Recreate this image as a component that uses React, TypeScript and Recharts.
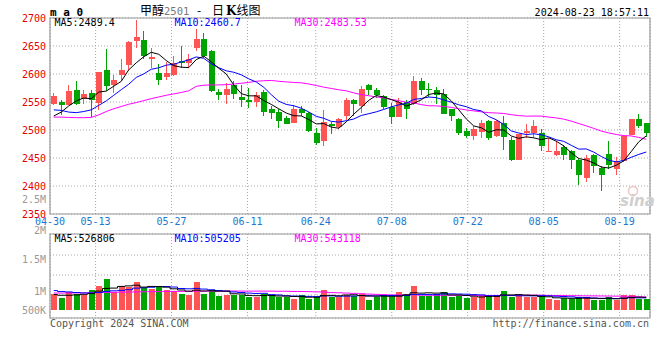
import React from "react";
import { ComposedChart, Bar, Line, XAxis, YAxis, CartesianGrid, ReferenceArea } from "recharts";

// ---------- data ----------
const DATES = [
  "04-30",
  "05-06", "05-07", "05-08", "05-09", "05-10",
  "05-13", "05-14", "05-15", "05-16", "05-17",
  "05-20", "05-21", "05-22", "05-23", "05-24",
  "05-27", "05-28", "05-29", "05-30", "05-31",
  "06-03", "06-04", "06-05", "06-06", "06-07",
  "06-11", "06-12", "06-13", "06-14",
  "06-17", "06-18", "06-19", "06-20", "06-21",
  "06-24", "06-25", "06-26", "06-27", "06-28",
  "07-01", "07-02", "07-03", "07-04", "07-05",
  "07-08", "07-09", "07-10", "07-11", "07-12",
  "07-15", "07-16", "07-17", "07-18", "07-19",
  "07-22", "07-23", "07-24", "07-25", "07-26",
  "07-29", "07-30", "07-31", "08-01", "08-02",
  "08-05", "08-06", "08-07", "08-08", "08-09",
  "08-12", "08-13", "08-14", "08-15", "08-16",
  "08-19", "08-20", "08-21", "08-22", "08-23",
];

const GRID_DATES = ["04-30", "05-13", "05-27", "06-11", "06-24", "07-08", "07-22", "08-05", "08-19"];

const OPEN = [
  2546, 2550, 2544, 2571, 2556, 2566, 2548, 2608, 2580, 2598,
  2616, 2659, 2660, 2627, 2601, 2594, 2599, 2624, 2620, 2646,
  2662, 2641, 2568, 2563, 2581, 2559, 2553, 2550, 2568, 2538,
  2532, 2522, 2513, 2538, 2531, 2495, 2480, 2511, 2505, 2525,
  2554, 2543, 2580, 2572, 2560, 2541, 2523, 2550, 2546, 2587,
  2574, 2572, 2565, 2537, 2520, 2498, 2489, 2496, 2516, 2489,
  2513, 2483, 2447, 2494, 2495, 2495, 2461, 2455, 2469, 2462,
  2447, 2415, 2456, 2432, 2457, 2431, 2444, 2491, 2519, 2512,
];
const HIGH = [
  2566, 2553, 2581, 2587, 2572, 2572, 2604, 2645, 2598, 2627,
  2659, 2696, 2677, 2647, 2618, 2622, 2632, 2650, 2635, 2680,
  2674, 2642, 2574, 2584, 2587, 2581, 2575, 2568, 2572, 2543,
  2538, 2525, 2544, 2543, 2532, 2504, 2535, 2514, 2522, 2557,
  2556, 2578, 2583, 2575, 2563, 2548, 2557, 2554, 2596, 2593,
  2584, 2577, 2574, 2537, 2522, 2504, 2507, 2517, 2517, 2517,
  2525, 2487, 2493, 2510, 2517, 2502, 2485, 2481, 2474, 2465,
  2449, 2456, 2457, 2435, 2481, 2451, 2491, 2520, 2529, 2513,
];
const LOW = [
  2545, 2527, 2544, 2544, 2547, 2524, 2535, 2570, 2566, 2587,
  2608, 2647, 2626, 2611, 2581, 2590, 2597, 2611, 2611, 2641,
  2629, 2568, 2554, 2547, 2556, 2541, 2540, 2541, 2525, 2520,
  2504, 2510, 2513, 2525, 2497, 2474, 2472, 2492, 2501, 2517,
  2525, 2531, 2563, 2557, 2538, 2510, 2523, 2520, 2544, 2562,
  2559, 2546, 2528, 2516, 2491, 2485, 2483, 2485, 2483, 2487,
  2465, 2445, 2446, 2486, 2485, 2463, 2461, 2453, 2447, 2431,
  2401, 2407, 2423, 2391, 2431, 2420, 2443, 2491, 2504, 2487,
];
const CLOSE = [
  2560, 2544, 2569, 2547, 2565, 2554, 2603, 2578, 2590, 2608,
  2657, 2666, 2632, 2630, 2590, 2601, 2620, 2619, 2626, 2662,
  2632, 2569, 2562, 2574, 2565, 2554, 2550, 2562, 2532, 2530,
  2516, 2511, 2538, 2531, 2498, 2477, 2514, 2507, 2520, 2554,
  2546, 2574, 2571, 2563, 2541, 2523, 2550, 2537, 2587, 2572,
  2571, 2563, 2529, 2525, 2494, 2489, 2501, 2513, 2485, 2516,
  2487, 2447, 2492, 2498, 2507, 2471, 2463, 2462, 2456, 2446,
  2419, 2450, 2435, 2420, 2437, 2444, 2489, 2519, 2507, 2495,
];

const MA5 = [
  2525, 2532, 2543, 2552, 2557.1, 2555.9, 2567.7, 2569.5, 2578.2, 2586.9,
  2607.5, 2620.0, 2630.8, 2638.8, 2635.2, 2624.0, 2614.8, 2612.2, 2611.4, 2625.7,
  2632.0, 2621.8, 2610.4, 2600.0, 2580.5, 2564.9, 2561.0, 2561.0, 2552.6, 2545.7,
  2537.9, 2530.3, 2525.5, 2525.1, 2518.7, 2510.9, 2511.5, 2505.2, 2503.2, 2514.5,
  2528.3, 2540.2, 2553.0, 2561.6, 2558.8, 2554.3, 2549.5, 2542.7, 2547.5, 2553.8,
  2563.4, 2566.0, 2564.4, 2551.9, 2536.1, 2519.8, 2507.2, 2504.0, 2496.0, 2500.4,
  2500.0, 2489.3, 2485.1, 2487.8, 2486.0, 2482.7, 2486.0, 2480.0, 2471.6, 2459.4,
  2449.0, 2446.4, 2441.0, 2433.9, 2432.1, 2437.1, 2444.8, 2461.6, 2478.9, 2489.4,
];
const MA10 = [
  2536, 2535, 2532, 2531, 2533, 2536, 2544, 2552, 2562, 2572.0,
  2581.7, 2593.9, 2600.2, 2608.5, 2611.1, 2615.8, 2617.4, 2621.5, 2625.1, 2630.5,
  2628.0, 2618.3, 2611.3, 2605.7, 2603.1, 2598.5, 2591.4, 2585.7, 2576.3, 2563.1,
  2551.4, 2545.7, 2543.3, 2538.9, 2532.2, 2524.4, 2520.9, 2515.4, 2514.2, 2516.6,
  2519.6, 2525.9, 2529.1, 2532.4, 2536.7, 2541.3, 2544.9, 2547.9, 2554.6, 2556.3,
  2558.9, 2557.8, 2553.6, 2549.7, 2545.0, 2541.6, 2536.6, 2534.2, 2524.0, 2518.3,
  2509.9, 2498.3, 2494.6, 2491.9, 2493.2, 2491.4, 2487.7, 2482.6, 2479.7, 2472.7,
  2465.9, 2466.2, 2460.5, 2452.8, 2445.8, 2443.1, 2445.6, 2451.3, 2456.4, 2460.7,
];
const MA30 = [
  2523, 2523, 2522.5, 2522, 2522, 2522.5, 2527, 2533, 2538, 2542,
  2546, 2549, 2552.5, 2556, 2559, 2562, 2564.5, 2567, 2570, 2578,
  2580, 2580.5, 2580.5, 2581, 2582, 2583.5, 2585, 2587, 2588, 2588.5,
  2587.0, 2585.9, 2584.9, 2584.3, 2582.1, 2579.5, 2576.5, 2574.2, 2571.8, 2570.0,
  2566.3, 2563.2, 2561.2, 2559.0, 2557.3, 2554.7, 2552.4, 2549.6, 2548.3, 2545.3,
  2543.3, 2543.1, 2542.0, 2540.3, 2537.9, 2535.8, 2534.1, 2532.5, 2530.9, 2530.4,
  2529.5, 2527.3, 2525.8, 2524.7, 2525.0, 2524.8, 2523.1, 2521.6, 2519.4, 2515.8,
  2511.6, 2507.4, 2502.9, 2498.1, 2494.7, 2492.0, 2490.0, 2489.4, 2486.7, 2483.5,
];

const VOLUME = [
  676000, 502000, 745000, 676000, 636000, 838000, 1000000, 1284000, 745000, 972000,
  948000, 1134000, 907000, 879000, 932000, 838000, 798000, 676000, 636000, 1134000,
  676000, 838000, 595000, 636000, 608000, 636000, 543000, 543000, 676000, 595000,
  543000, 527000, 474000, 636000, 474000, 543000, 838000, 543000, 543000, 636000,
  595000, 676000, 433000, 543000, 636000, 543000, 729000, 676000, 972000, 567000,
  595000, 676000, 729000, 543000, 567000, 486000, 543000, 567000, 636000, 595000,
  770000, 543000, 636000, 543000, 543000, 543000, 474000, 433000, 502000, 474000,
  543000, 502000, 433000, 433000, 543000, 433000, 608000, 608000, 474000, 474000,
];
const VOL_MA5 = [
  636000, 610000, 610000, 625000, 647000, 679000, 779000, 887000, 901000, 968000,
  990000, 1017000, 941000, 968000, 960000, 938000, 871000, 825000, 776000, 816000,
  784000, 792000, 776000, 776000, 671000, 663000, 604000, 593000, 601000, 599000,
  580000, 577000, 563000, 555000, 531000, 531000, 593000, 607000, 588000, 621000,
  631000, 599000, 577000, 577000, 577000, 566000, 577000, 625000, 711000, 697000,
  708000, 697000, 708000, 622000, 622000, 600000, 574000, 541000, 560000, 565000,
  622000, 622000, 636000, 617000, 607000, 562000, 548000, 507000, 499000, 485000,
  485000, 491000, 491000, 477000, 491000, 469000, 490000, 525000, 533000, 526806,
];
const VOL_MA10 = [
  800000, 760000, 745000, 720000, 705000, 705000, 720000, 760000, 790000, 808000,
  835000, 898000, 914000, 935000, 964000, 964000, 944000, 883000, 872000, 888000,
  861000, 832000, 801000, 776000, 744000, 724000, 698000, 685000, 689000, 635000,
  622000, 591000, 578000, 578000, 565000, 556000, 585000, 585000, 572000, 576000,
  581000, 596000, 592000, 583000, 599000, 599000, 588000, 601000, 644000, 637000,
  637000, 637000, 667000, 667000, 660000, 654000, 636000, 625000, 591000, 594000,
  611000, 598000, 589000, 589000, 586000, 592000, 585000, 572000, 558000, 546000,
  524000, 520000, 499000, 488000, 488000, 477000, 491000, 508000, 505000, 505205,
];
const VOL_MA30 = [
  700000, 700000, 702000, 705000, 707000, 712000, 718000, 725000, 730000, 735000,
  740000, 745000, 750000, 755000, 760000, 763000, 766000, 768000, 770000, 775000,
  777000, 779000, 780000, 781000, 781000, 780000, 779000, 778000, 778000, 777000,
  772000, 773000, 764000, 763000, 757000, 748000, 742000, 718000, 711000, 700000,
  688000, 673000, 657000, 646000, 636000, 626000, 624000, 624000, 635000, 616000,
  613000, 608000, 612000, 609000, 608000, 603000, 603000, 604000, 602000, 602000,
  610000, 610000, 616000, 613000, 615000, 615000, 603000, 599000, 598000, 592000,
  591000, 585000, 585000, 581000, 578000, 574000, 570000, 568000, 551000, 543118,
];

const PRICE_TICKS = [2350, 2400, 2450, 2500, 2550, 2600, 2650, 2700];
const VOL_DOMAIN = [-310000, 3090000];
const VOL_GRID = [-310000, 620000, 1430000, 2240000, 3090000];
const VOL_TICK_LABELS: string[][] = [["500K"], ["1M"], [], ["1.5M"], ["2M", "2.5M"]];

const PRICE_LEGEND = [
  { name: "MA5", value: "2489.4" },
  { name: "MA10", value: "2460.7" },
  { name: "MA30", value: "2483.53" },
];
const VOL_LEGEND = [
  { name: "MA5", value: "526806" },
  { name: "MA10", value: "505205" },
  { name: "MA30", value: "543118" },
];
const TITLE_PARTS = ["甲醇", "2501", "-", "日", "K", "线图"];
const TIMESTAMP = "2024-08-23 18:57:11";
const CORNER_TEXT = "m a 0";
const COPYRIGHT = "Copyright 2024 SINA.COM";
const SITE = "http://finance.sina.com.cn";

// ---------- styles ----------
const MONO = "'DejaVu Sans Mono', 'Liberation Mono', monospace";
const CJK = "'Noto Sans CJK SC', sans-serif";
const RED = "#ff5454";
const GREEN = "#00a400";
const MA_COLORS = ["#000000", "#0000ff", "#ff00ff"];
const GRID = "#a8a8a8";
const BORDER = "#9a9a9a";

const data = DATES.map((d, i) => ({
  date: d,
  open: OPEN[i],
  high: HIGH[i],
  low: LOW[i],
  close: CLOSE[i],
  range: [LOW[i], HIGH[i]],
  ma5: MA5[i],
  ma10: MA10[i],
  ma30: MA30[i],
  volume: VOLUME[i],
  vma5: VOL_MA5[i],
  vma10: VOL_MA10[i],
  vma30: VOL_MA30[i],
}));

const GRID_TICKS = GRID_DATES.map((d) => DATES.indexOf(d));
const GRID_DOMAIN = [0, DATES.length - 1];

const Candle = (props: any) => {
  const { x, y, width, height, payload } = props;
  if (!payload) return null;
  const { open, close, high, low } = payload;
  const up = close >= open;
  const color = up ? RED : GREEN;
  const top = Math.min(y, y + height);
  const h = Math.abs(height);
  const span = high - low;
  const py = (v: number) => (span === 0 ? top : top + ((high - v) / span) * h);
  const X = Math.round(x);
  const Wd = Math.round(width);
  const bt = Math.round(py(Math.max(open, close)));
  const bb = Math.round(py(Math.min(open, close)));
  const wt = Math.round(top);
  const wb = Math.round(top + h);
  return (
    <g>
      <rect x={X + Math.floor(Wd / 2) - 1} y={wt} width={1} height={Math.max(1, wb - wt)} fill={color} />
      <rect x={X} y={bt} width={Wd} height={Math.max(1, bb - bt)} fill={color} />
    </g>
  );
};

const VolBar = (props: any) => {
  const { x, y, width, height, payload } = props;
  if (!payload) return null;
  const up = payload.close >= payload.open;
  const top = Math.round(Math.min(y, y + height));
  const bot = Math.round(Math.max(y, y + height));
  return <rect x={Math.round(x)} y={top} width={Math.round(width)} height={Math.max(1, bot - top)} fill={up ? RED : GREEN} />;
};

const VOL_LABEL_DY = [[-7.3], [-4], [], [4.5], [-4, -34.7]];

const VolTick = (props: any) => {
  const { x, y, payload } = props;
  const k = VOL_GRID.indexOf(payload.value);
  const labels = VOL_TICK_LABELS[k] || [];
  return (
    <g>
      {labels.map((t, j) => (
        <text
          key={t}
          x={x}
          y={y + (VOL_LABEL_DY[k][j] || 0)}
          dy="0.35em"
          textAnchor="end"
          fill="#999999"
          fontSize={10}
          fontFamily={MONO}
        >
          {t}
        </text>
      ))}
    </g>
  );
};

const W = 660;
const H = 360;

export default function App() {
  return (
    <div style={{ position: "absolute", left: 0, top: 0, width: W, height: H, background: "#fff", overflow: "hidden" }}>
      {/* price panel */}
      <div style={{ position: "absolute", left: 0, top: 0 }}>
        <ComposedChart width={W} height={H} data={data} margin={{ top: 18, right: 10, bottom: 126, left: 0 }}>
          <XAxis xAxisId="c" dataKey="date" type="category" hide height={0} />
          <XAxis
            xAxisId="g"
            type="number"
            domain={GRID_DOMAIN}
            allowDataOverflow
            ticks={GRID_TICKS}
            interval={0}
            tickFormatter={(v: number) => DATES[v]}
            axisLine={false}
            tickLine={false}
            tickSize={0}
            tickMargin={4}
            height={20}
            tick={{ fill: "#1a78d0", fontSize: 10, fontFamily: MONO }}
          />
          <YAxis
            type="number"
            domain={[PRICE_TICKS[0], PRICE_TICKS[PRICE_TICKS.length - 1]]}
            ticks={PRICE_TICKS}
            interval={0}
            width={50}
            axisLine={false}
            tickLine={false}
            tickSize={0}
            tickMargin={4}
            tick={{ fill: "#e60000", fontSize: 10, fontFamily: MONO }}
          />
          <CartesianGrid xAxisId="g" stroke={GRID} strokeDasharray="1 2" />
          <Bar xAxisId="c" dataKey="range" barSize={6} shape={<Candle />} isAnimationActive={false} />
          <Line xAxisId="c" dataKey="ma30" stroke={MA_COLORS[2]} strokeWidth={1} dot={false} isAnimationActive={false} />
          <Line xAxisId="c" dataKey="ma10" stroke={MA_COLORS[1]} strokeWidth={1} dot={false} isAnimationActive={false} />
          <Line xAxisId="c" dataKey="ma5" stroke={MA_COLORS[0]} strokeWidth={1} dot={false} isAnimationActive={false} />
          <ReferenceArea
            xAxisId="g"
            x1={GRID_DOMAIN[0]}
            x2={GRID_DOMAIN[1]}
            y1={PRICE_TICKS[0]}
            y2={PRICE_TICKS[PRICE_TICKS.length - 1]}
            fill="none"
            stroke={BORDER}
            strokeWidth={1.2}
          />
        </ComposedChart>
      </div>

      {/* volume panel */}
      <div style={{ position: "absolute", left: 0, top: 0 }}>
        <ComposedChart width={W} height={H} data={data} margin={{ top: 234, right: 10, bottom: 42, left: 0 }}>
          <XAxis xAxisId="c" dataKey="date" type="category" hide height={0} />
          <XAxis xAxisId="g" type="number" domain={GRID_DOMAIN} allowDataOverflow ticks={GRID_TICKS} interval={0} hide height={0} />
          <YAxis
            type="number"
            domain={VOL_DOMAIN}
            allowDataOverflow
            ticks={VOL_GRID}
            interval={0}
            width={50}
            axisLine={false}
            tickLine={false}
            tickSize={0}
            tickMargin={4}
            tick={<VolTick />}
          />
          <CartesianGrid xAxisId="g" stroke={GRID} strokeDasharray="1 2" />
          <Bar xAxisId="c" dataKey="volume" barSize={6} shape={<VolBar />} isAnimationActive={false} />
          <Line xAxisId="c" type="step" dataKey="vma30" stroke={MA_COLORS[2]} strokeWidth={1} dot={false} isAnimationActive={false} />
          <Line xAxisId="c" type="step" dataKey="vma10" stroke={MA_COLORS[1]} strokeWidth={1} dot={false} isAnimationActive={false} />
          <Line xAxisId="c" type="step" dataKey="vma5" stroke={MA_COLORS[0]} strokeWidth={1} dot={false} isAnimationActive={false} />
          <ReferenceArea
            xAxisId="g"
            x1={GRID_DOMAIN[0]}
            x2={GRID_DOMAIN[1]}
            y1={VOL_DOMAIN[0]}
            y2={VOL_DOMAIN[1]}
            fill="none"
            stroke={BORDER}
            strokeWidth={1.2}
          />
        </ComposedChart>
      </div>

      {/* texts */}
      <svg width={W} height={H} style={{ position: "absolute", left: 0, top: 0, pointerEvents: "none" }}>
        <text x={50} y={15.5} fontFamily={MONO} fontSize={11} fontWeight="bold" fill="#000">
          {CORNER_TEXT}
        </text>
        <text y={14.5} fontSize={12} fill="#000">
          <tspan x={140} fontFamily={CJK}>{TITLE_PARTS[0]}</tspan>
          <tspan x={164} fontFamily={MONO} fontSize={10.5} fill="#777">{TITLE_PARTS[1]}</tspan>
          <tspan x={197} fontFamily={CJK}>{TITLE_PARTS[2]}</tspan>
          <tspan x={212} fontFamily={CJK}>{TITLE_PARTS[3]}</tspan>
          <tspan x={226} fontFamily="'DejaVu Serif', serif" fontWeight="bold">{TITLE_PARTS[4]}</tspan>
          <tspan x={236.5} fontFamily={CJK}>{TITLE_PARTS[5]}</tspan>
        </text>
        <text x={649} y={15.5} textAnchor="end" fontFamily={MONO} fontSize={10} fill="#000">
          {TIMESTAMP}
        </text>
        {PRICE_LEGEND.map((m, k) => (
          <text key={m.name} x={54.5 + k * 120} y={25.8} fontFamily={MONO} fontSize={10} fill={MA_COLORS[k]}>
            {`${m.name}:${m.value}`}
          </text>
        ))}
        {VOL_LEGEND.map((m, k) => (
          <text key={m.name} x={54.5 + k * 120} y={241.7} fontFamily={MONO} fontSize={10} fill={MA_COLORS[k]}>
            {`${m.name}:${m.value}`}
          </text>
        ))}
        <text x={50} y={326.5} fontFamily={MONO} fontSize={10} fill="#555">
          {COPYRIGHT}
        </text>
        <text x={649} y={326.5} textAnchor="end" fontFamily={MONO} fontSize={10} fill="#555">
          {SITE}
        </text>
        <circle cx={633} cy={191} r={4.5} fill="none" stroke="#efc4c4" strokeWidth={1.5} />
        <text x={620} y={206} fontFamily="'DejaVu Sans', sans-serif" fontSize={15} fontWeight="bold" fontStyle="italic" fill="#cfcfcf">
          sina
        </text>
      </svg>
    </div>
  );
}
